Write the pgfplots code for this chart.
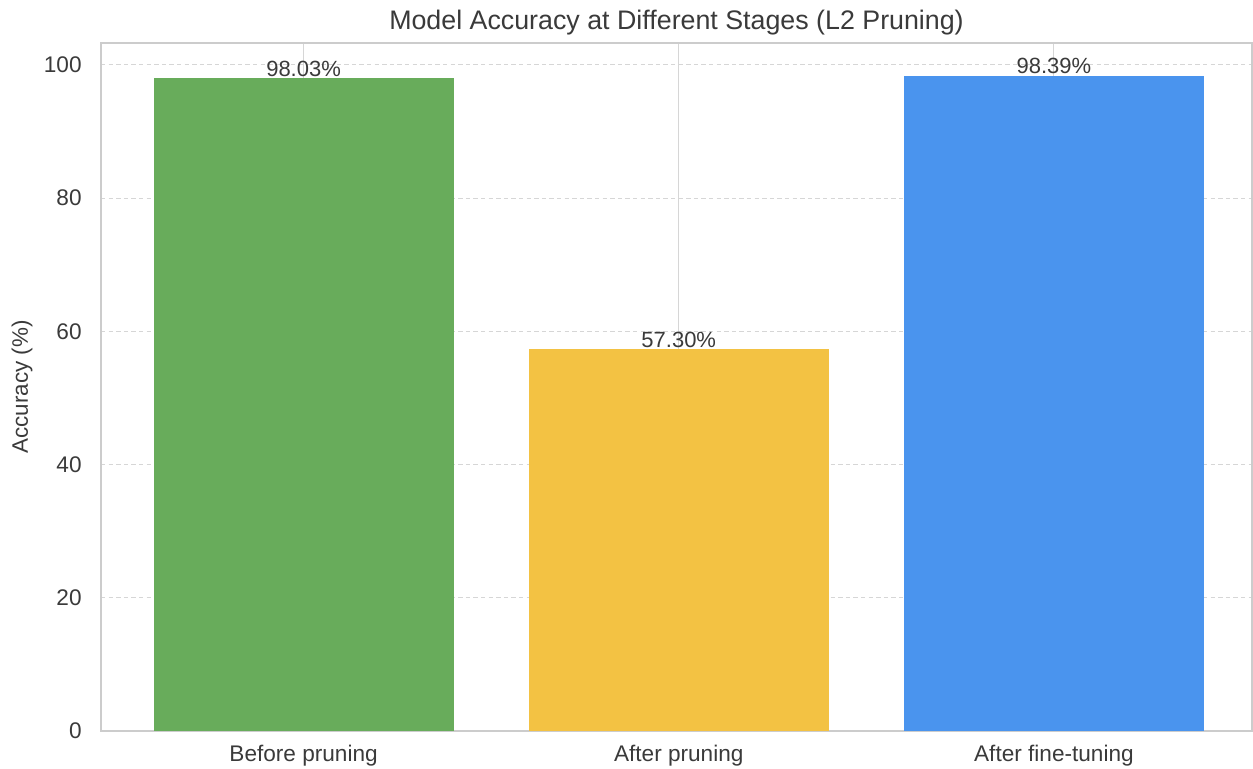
\documentclass[border=0pt]{standalone}
\usepackage{fontspec}
\setmainfont{Liberation Sans}
\usepackage{pgfplots}
\pgfplotsset{compat=1.18}

\definecolor{barGreen}{HTML}{68AC5B}
\definecolor{barYellow}{HTML}{F3C243}
\definecolor{barBlue}{HTML}{4A94EE}
\definecolor{gridGray}{HTML}{D6D6D6}
\definecolor{spineGray}{HTML}{CCCCCC}
\definecolor{textGray}{HTML}{3A3A3A}

\begin{document}
\begin{tikzpicture}
\path[use as bounding box] (0,0) rectangle (626.5pt,384.5pt);
\begin{axis}[
  at={(50.5pt,19pt)}, anchor=south west,
  width=575.5pt, height=344pt, scale only axis,
  xmin=-0.54, xmax=2.528, ymin=0, ymax=103.3,
  xtick={0,1,2},
  xticklabels={Before pruning, After pruning, After fine-tuning},
  ytick={0,20,40,60,80,100},
  major tick length=0pt,
  /pgf/number format/assume math mode=true,
  tick label style={font=\fontsize{11.3}{13}\selectfont, text=textGray},
  x tick label style={anchor=base, yshift=-15.5pt, inner sep=0pt},
  y tick label style={anchor=east, xshift=-9.5pt, inner sep=0pt},
  axis line style={spineGray, line width=0.6pt},
  xmajorgrids, ymajorgrids,
  x grid style={gridGray, line width=0.5pt},
  y grid style={gridGray, line width=0.5pt, dash pattern=on 2.2pt off 1.6pt},
  every axis title shift=0pt,
  title={Model Accuracy at Different Stages (L2 Pruning)},
  title style={font=\fontsize{13.4}{16}\selectfont, text=textGray,
    at={(axis description cs:0.5,1)}, anchor=base, yshift=6.5pt, inner sep=0pt},
  ylabel={Accuracy (\%)},
  ylabel style={font=\fontsize{11.2}{13}\selectfont, text=textGray,
    at={(axis description cs:0,0.5)}, anchor=center, yshift=39.5pt, inner sep=0pt},
  ybar, bar width=0.8, bar shift=0pt,
  nodes near coords={\pgfmathprintnumber[fixed,fixed zerofill,precision=2]{\pgfplotspointmeta}\%},
  every node near coord/.append style={font=\fontsize{11}{13}\selectfont, text=textGray,
    anchor=south, inner sep=0pt, yshift=0.6pt},
]
\addplot[fill=barGreen, draw=none] coordinates {(0,98.03)};
\addplot[fill=barYellow, draw=none] coordinates {(1,57.30)};
\addplot[fill=barBlue, draw=none] coordinates {(2,98.39)};
\end{axis}
\end{tikzpicture}
\end{document}
